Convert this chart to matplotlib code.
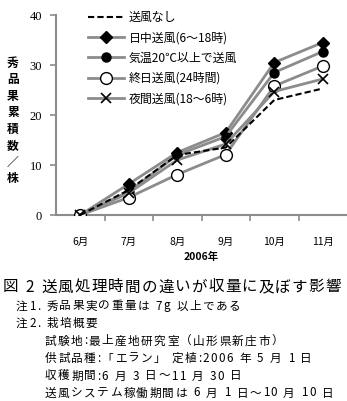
import matplotlib
matplotlib.use("Agg")
import matplotlib.pyplot as plt
from matplotlib.ticker import FixedLocator

plt.rcParams['font.family'] = ['Noto Sans CJK JP', 'DejaVu Sans']

months = ["6月", "7月", "8月", "9月", "10月", "11月"]
series_labels = ["送風なし", "日中送風(6～18時)", "気温20℃以上で送風",
                 "終日送風(24時間)", "夜間送風(18～6時)"]
no_wind = [0, 5.0, 12.0, 13.5, 23.0, 25.3]
daytime = [0, 6.2, 12.5, 16.5, 30.5, 34.5]
temp20 = [0, 4.7, 12.0, 15.7, 28.5, 32.7]
allday = [0, 3.5, 8.1, 12.1, 25.8, 29.8]
night = [0, 4.4, 11.0, 14.2, 24.7, 27.2]
yticks = [0, 10, 20, 30, 40]

W, H = 347, 401
fig = plt.figure(figsize=(W / 100, H / 100), dpi=100)
ax = fig.add_axes([56 / W, (H - 215) / H, 291 / W, 200 / H])

x = list(range(len(months)))
gray = "#8c8c8c"
ax.plot(x, no_wind, color="black", ls=(0, (3, 1.5)), lw=1.5, zorder=5,
        label=series_labels[0])
ax.plot(x, daytime, color=gray, lw=2, marker="D", ms=6, mfc="black",
        mec="black", label=series_labels[1])
ax.plot(x, temp20, color=gray, lw=2, marker="o", ms=6.5, mfc="black",
        mec="black", label=series_labels[2])
ax.plot(x, allday, color=gray, lw=2, marker="o", ms=8.5, mfc="white",
        mec="black", mew=1, label=series_labels[3])
ax.plot(x, night, color=gray, lw=2, marker="x", ms=7, mec="black",
        mew=1.2, label=series_labels[4])

ax.set_xlim(-0.5, 5.5)
ax.set_ylim(0, 40)
for s in ["top", "right"]:
    ax.spines[s].set_visible(False)
for s in ["left", "bottom"]:
    ax.spines[s].set_color(gray)
    ax.spines[s].set_linewidth(1.5)
ax.spines["bottom"].set_zorder(1)

ax.set_xticks(x)
ax.set_xticklabels(months, fontsize=7.5)
ax.tick_params(axis="x", which="major", length=0, pad=16)
ax.xaxis.set_minor_locator(FixedLocator([i + 0.5 for i in range(5)]))
ax.tick_params(axis="x", which="minor", length=4, width=1.2, color=gray,
               direction="out")
ax.set_yticks(yticks)
ax.set_yticklabels([str(v) for v in yticks], fontsize=9,
                   family=["Liberation Serif"])
ax.tick_params(axis="y", length=4, width=1.2, color=gray, pad=6)

ax.text(2.5, -8.3, "2006年", ha="center", va="center",
        fontsize=7.5, fontweight="bold")

fig.text(13 / W, 1 - 121 / H, "\n".join("秀品果累積数／株"), ha="center",
         va="center", fontsize=8.5, fontweight="bold", linespacing=1.35)

ax.legend(loc="upper left", bbox_to_anchor=(0.095, 1.045), frameon=False,
          fontsize=8.6, handlelength=3.0, handletextpad=0.4,
          labelspacing=0.62, borderaxespad=0)

renderer = fig.canvas.get_renderer()


def spaced_text(px, py, s, size, track):
    """Write s one character at a time with extra spacing (pixels)."""
    cx = px
    for ch in s:
        if ch == " ":
            cx += size * 100 / 72 * 0.3 + track
            continue
        t = fig.text(cx / W, 1 - py / H, ch, ha="left", va="center",
                     fontsize=size)
        cx += t.get_window_extent(renderer).width + track


spaced_text(3, 287, "図 2 送風処理時間の違いが収量に及ぼす影響", 11.2, 1.2)
notes = [
    (16, 306, "注1. 秀品果実の重量は 7g 以上である"),
    (16, 323.5, "注2. 栽培概要"),
    (45, 341, "試験地:最上産地研究室（山形県新庄市）"),
    (45, 358.5, "供試品種:「エラン」 定植:2006 年 5 月 1 日"),
    (45, 376, "収穫期間:6 月 3 日～11 月 30 日"),
    (45, 393, "送風システム稼働期間は 6 月 1 日～10 月 10 日"),
]
for nx, ny, t in notes:
    spaced_text(nx, ny, t, 8.4, 1.4)

fig.savefig("out.png", dpi=100)
